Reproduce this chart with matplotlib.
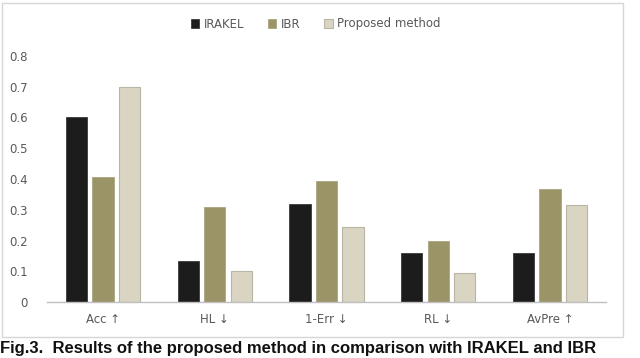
import matplotlib.pyplot as plt
import numpy as np
from matplotlib.patches import Rectangle

categories = ["Acc \u2191", "HL \u2193", "1-Err \u2193", "RL \u2193", "AvPre \u2191"]
irakel = [0.60, 0.133, 0.32, 0.158, 0.158]
ibr = [0.405, 0.31, 0.395, 0.20, 0.368]
proposed = [0.70, 0.10, 0.245, 0.095, 0.314]
yticks = [0, 0.1, 0.2, 0.3, 0.4, 0.5, 0.6, 0.7, 0.8]
ytick_labels = ["0", "0.1", "0.2", "0.3", "0.4", "0.5", "0.6", "0.7", "0.8"]

plt.rcParams['font.family'] = ['DejaVu Sans']

W, H = 640, 358
fig = plt.figure(figsize=(W / 100, H / 100), dpi=100)
ax = fig.add_axes([47 / W, 1 - 302 / H, (606 - 47) / W, (302 - 56) / H])

x = np.arange(len(categories))
w = 0.19
step = 0.237
ax.bar(x - step, irakel, w, color="#1c1c1c", edgecolor="#3a3a3a", linewidth=0.6, label="IRAKEL")
ax.bar(x, ibr, w, color="#9b9467", edgecolor="#aaa47e", linewidth=0.6, label="IBR")
ax.bar(x + step, proposed, w, color="#d9d5c2", edgecolor="#b9b5a5", linewidth=0.8, label="Proposed method")

ax.set_xlim(-0.5, len(categories) - 0.5)
ax.set_ylim(0, 0.8)
ax.set_yticks(yticks)
ax.set_yticklabels(ytick_labels)
ax.set_xticks(x)
ax.set_xticklabels(categories)
ax.tick_params(axis='both', length=0, labelsize=8.5, colors="#595959")
ax.tick_params(axis='y', pad=14)
ax.tick_params(axis='x', pad=8)
for s in ["top", "right", "left"]:
    ax.spines[s].set_visible(False)
ax.spines["bottom"].set_color("#bfbfbf")
ax.spines["bottom"].set_linewidth(1.0)

fig.legend(loc="center", bbox_to_anchor=(316 / W, 1 - 24 / H), ncol=3, frameon=False,
           fontsize=8.5, handlelength=0.7, handleheight=0.7, handletextpad=0.4,
           columnspacing=2.0, labelcolor="#595959")

# chart border
fig.patches.append(Rectangle((2 / W, 1 - 337 / H), (623 - 2) / W, (337 - 3) / H,
                             transform=fig.transFigure, fill=False,
                             edgecolor="#d6d6d6", linewidth=1.0))

# caption below the chart
fig.text(0.0, 1 - 356 / H, "Fig.3.  Results of the proposed method in comparison with IRAKEL and IBR",
         fontsize=12, fontweight="bold", family="Liberation Sans", va="bottom", ha="left",
         color="#111111")

fig.savefig("out.png", dpi=100)
